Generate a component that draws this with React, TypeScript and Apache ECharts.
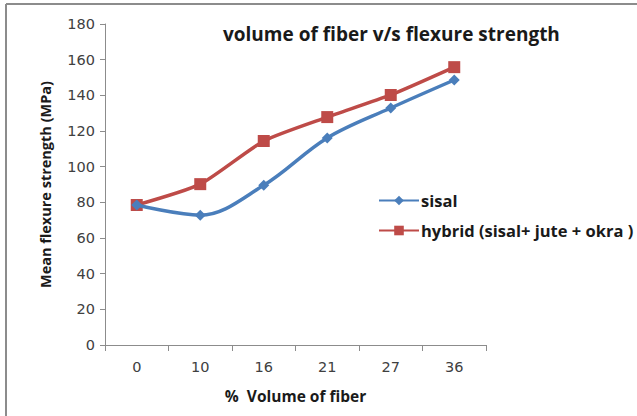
import React, { useEffect, useRef } from "react";
import * as echarts from "echarts";

const categories = ["0", "10", "16", "21", "27", "36"];
const sisal = [78.5, 72.8, 89.6, 116.1, 132.9, 148.6];
const hybrid = [78.5, 90.2, 114.4, 127.8, 140.2, 155.8];
const yTicks = { min: 0, max: 180, interval: 20 };

export default function App() {
  const ref = useRef<HTMLDivElement>(null);
  useEffect(() => {
    if (!ref.current) return;
    const chart = echarts.init(ref.current, null, { renderer: "svg" });
    const font = "Open Sans";
    chart.setOption({
      animation: false,
      backgroundColor: "#ffffff",
      title: {
        text: "volume of fiber v/s flexure strength",
        left: 218,
        top: 19,
        textStyle: { fontFamily: font, fontSize: 19, fontWeight: "bold", color: "#1a1a1a" },
      },
      legend: {
        orient: "vertical",
        left: 373,
        top: 187,
        itemWidth: 40,
        itemHeight: 12,
        itemGap: 13,
        textStyle: { fontFamily: font, fontSize: 16.5, fontWeight: "bold", color: "#1a1a1a", padding: [0, 0, 0, -3] },
        data: [
          { name: "sisal" },
          { name: "hybrid (sisal+ jute + okra )" },
        ],
      },
      graphic: [
        { type: "line", shape: { x1: 6, y1: 4, x2: 637, y2: 4 }, style: { stroke: "#8c8c8c", lineWidth: 2 } },
        { type: "line", shape: { x1: 6, y1: 4, x2: 6, y2: 416 }, style: { stroke: "#8c8c8c", lineWidth: 2 } },
      ],
      grid: { left: 105, right: 151, top: 24, bottom: 71, containLabel: false },
      xAxis: {
        type: "category",
        data: categories,
        boundaryGap: true,
        name: "%  Volume of fiber",
        nameLocation: "middle",
        nameGap: 43,
        nameTextStyle: { fontFamily: font, fontSize: 15.5, fontWeight: "bold", color: "#1a1a1a" },
        axisLine: { lineStyle: { color: "#8c8c8c", width: 1 } },
        axisTick: { show: true, length: 6, inside: false, lineStyle: { color: "#8c8c8c" } },
        axisLabel: { margin: 14, fontFamily: "DejaVu Sans", fontSize: 14.5, color: "#404040" },
        splitLine: { show: false },
      },
      yAxis: {
        type: "value",
        min: yTicks.min,
        max: yTicks.max,
        interval: yTicks.interval,
        name: "Mean flexure strength (MPa)",
        nameLocation: "middle",
        nameGap: 52,
        nameTextStyle: { fontFamily: font, fontSize: 14.5, fontWeight: "bold", color: "#1a1a1a" },
        axisLine: { show: true, lineStyle: { color: "#8c8c8c", width: 1 } },
        axisTick: { show: true, length: 5, lineStyle: { color: "#8c8c8c" } },
        axisLabel: { margin: 10, fontFamily: "DejaVu Sans", fontSize: 14.5, color: "#404040" },
        splitLine: { show: false },
      },
      series: [
        {
          name: "sisal",
          type: "line",
          data: sisal,
          smooth: 0.35,
          symbol: "diamond",
          symbolSize: 11,
          lineStyle: { color: "#4a7ebb", width: 3.5 },
          itemStyle: { color: "#4a7ebb" },
          z: 3,
        },
        {
          name: "hybrid (sisal+ jute + okra )",
          type: "line",
          data: hybrid,
          smooth: 0.2,
          symbol: "rect",
          symbolSize: 12,
          lineStyle: { color: "#be4b48", width: 3.5 },
          itemStyle: { color: "#be4b48" },
          z: 2,
        },
      ],
    });
    return () => chart.dispose();
  }, []);
  return <div ref={ref} style={{ width: 637, height: 416, position: "fixed", left: 0, top: 0 }} />;
}
